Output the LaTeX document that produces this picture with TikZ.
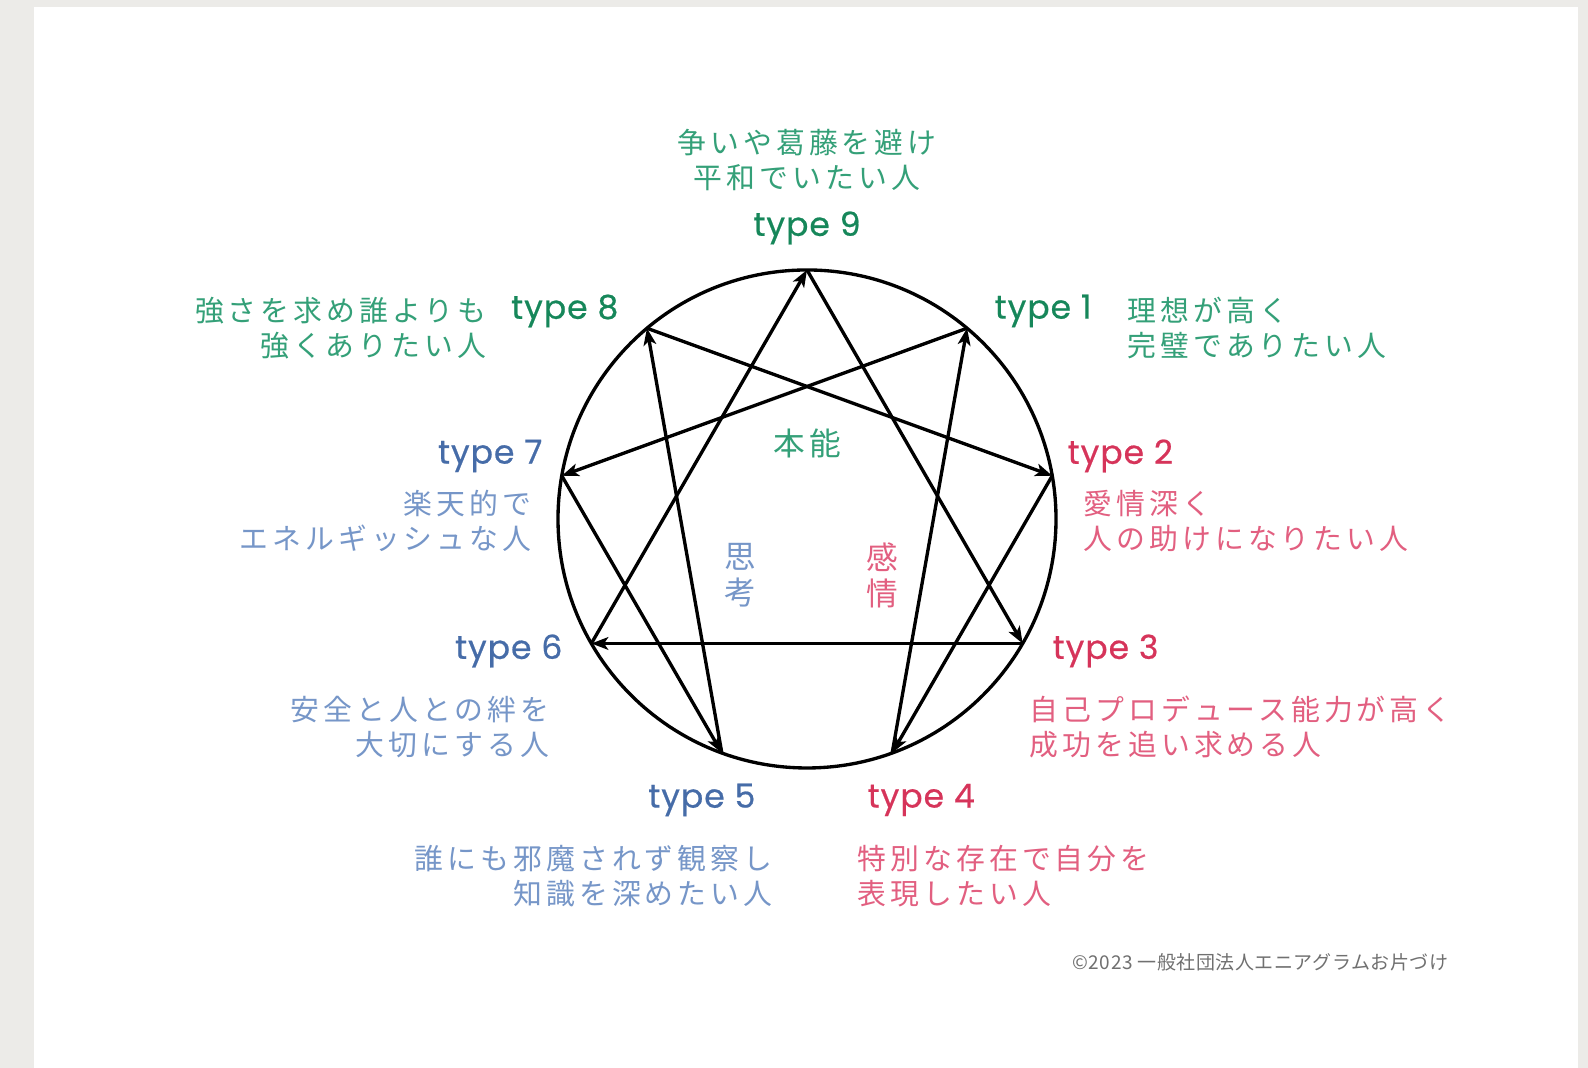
\documentclass[tikz,border=0pt]{standalone}
\usepackage{xcolor}
\usepackage{fontspec}
\setmainfont{Poppins}
\newfontfamily\jpfont[LetterSpace=14]{Noto Sans CJK JP}
\newfontfamily\jpplain[LetterSpace=3]{Noto Sans CJK JP}
\newfontfamily\typefont[FakeBold=0.6,LetterSpace=3]{Poppins}
\usepackage{tikz}
\usetikzlibrary{positioning,calc}
\usetikzlibrary{arrows.meta}
\definecolor{gutdark}{RGB}{22,135,90}
\definecolor{gutlight}{RGB}{52,160,120}
\definecolor{heartdark}{RGB}{214,52,90}
\definecolor{heartlight}{RGB}{226,95,128}
\definecolor{headdark}{RGB}{70,108,168}
\definecolor{headlight}{RGB}{118,150,200}
\definecolor{backdrop}{RGB}{236,235,232}
\definecolor{note}{RGB}{112,112,112}

\begin{document}
\begin{tikzpicture}[x=0.01cm,y=0.01cm,line width=0.95pt,
	typelabel/.style={font=\typefont\fontsize{9.4pt}{11pt}\selectfont,inner sep=0},
	desc/.style={font=\jpfont\fontsize{8.2pt}{10.1pt}\selectfont,inner sep=0},
	triad/.style={font=\jpfont\fontsize{9pt}{10.3pt}\selectfont,inner sep=0,align=center},
	flow/.style={-{Stealth[length=4.8pt,width=3.6pt,inset=1.2pt]}}]
	\useasboundingbox (0,0) rectangle (1588,1068);
	\fill[backdrop] (0,0) rectangle (1588,1068);
	\fill[white] (34,0) rectangle (1578,1061);
	
	\coordinate (c) at (807,549);
	\coordinate (v9) at ($(c)+(90:249)$);
	\coordinate (v1) at ($(c)+(50:249)$);
	\coordinate (v2) at ($(c)+(10:249)$);
	\coordinate (v3) at ($(c)+(-30:249)$);
	\coordinate (v4) at ($(c)+(-70:249)$);
	\coordinate (v5) at ($(c)+(-110:249)$);
	\coordinate (v6) at ($(c)+(-150:249)$);
	\coordinate (v7) at ($(c)+(170:249)$);
	\coordinate (v8) at ($(c)+(130:249)$);
	
	\draw (c) circle (249);
	
	\draw [flow] (v9) -- (v3);
	\draw [flow] (v3) -- (v6);
	\draw [flow] (v6) -- (v9);
	
	\draw [flow] (v1) -- (v7);
	\draw [flow] (v7) -- (v5);
	\draw [flow] (v5) -- (v8);
	\draw [flow] (v8) -- (v2);
	\draw [flow] (v2) -- (v4);
	\draw [flow] (v4) -- (v1);
	
	\node[typelabel,text=gutdark] (type9) at (807,840) {type 9};
	\node[desc,text=gutlight,align=center] (desc9) at (807,908) {争いや葛藤を避け\\平和でいたい人};
	
	\node[typelabel,text=gutdark,anchor=east] (type8) at (620,757) {type 8};
	\node[desc,text=gutlight,align=right,anchor=east] (desc8) at (488,740) {強さを求め誰よりも\\強くありたい人};
	
	\node[typelabel,text=gutdark,anchor=west] (type1) at (993,757) {type 1};
	\node[desc,text=gutlight,align=left,anchor=west] (desc1) at (1126,740) {理想が高く\\完璧でありたい人};
	
	\node[typelabel,text=headdark,anchor=east] (type7) at (544,612) {type 7};
	\node[desc,text=headlight,align=right,anchor=east] (desc7) at (533,547) {楽天的で\\エネルギッシュな人};
	
	\node[typelabel,text=heartdark,anchor=west] (type2) at (1066,612) {type 2};
	\node[desc,text=heartlight,align=left,anchor=west] (desc2) at (1082,547) {愛情深く\\人の助けになりたい人};
	
	\node[typelabel,text=headdark,anchor=east] (type6) at (564,417) {type 6};
	\node[desc,text=headlight,align=right,anchor=east] (desc6) at (551,341) {安全と人との絆を\\大切にする人};
	
	\node[typelabel,text=heartdark,anchor=west] (type3) at (1051,417) {type 3};
	\node[desc,text=heartlight,align=left,anchor=west] (desc3) at (1028,341) {自己プロデュース能力が高く\\成功を追い求める人};
	
	\node[typelabel,text=headdark,anchor=east] (type5) at (757,268) {type 5};
	\node[desc,text=headlight,align=right,anchor=east] (desc5) at (774,192) {誰にも邪魔されず観察し\\知識を深めたい人};
	
	\node[typelabel,text=heartdark,anchor=west] (type4) at (866,268) {type 4};
	\node[desc,text=heartlight,align=left,anchor=west] (desc4) at (856,192) {特別な存在で自分を\\表現したい人};
	
	\node[triad,text=gutlight] (gut) at (807,625) {本能};
	\node[triad,text=headlight] (head) at (740,493) {思\\考};
	\node[triad,text=heartlight] (heart) at (882,493) {感\\情};
	
	\node[font=\jpplain\fontsize{5.4pt}{6.5pt}\selectfont,text=note,inner sep=0,anchor=east] (credit) at (1450,106) {©2023 一般社団法人エニアグラムお片づけ};
\end{tikzpicture}
\end{document}
